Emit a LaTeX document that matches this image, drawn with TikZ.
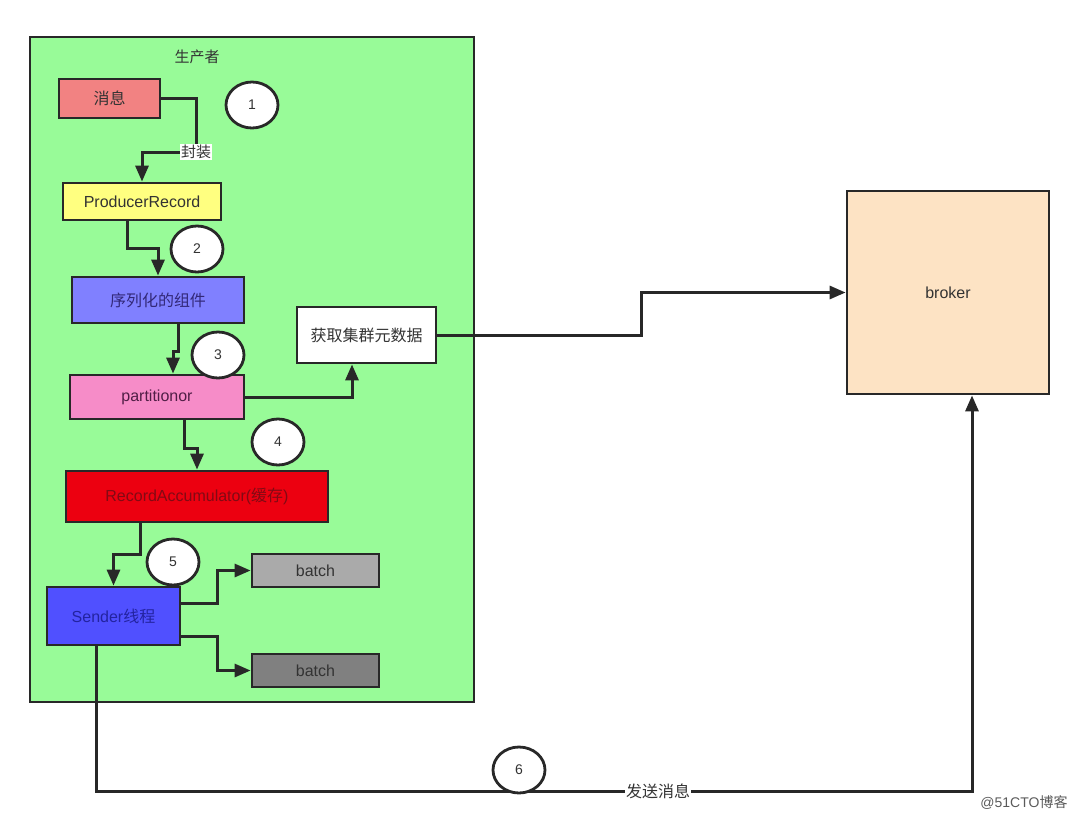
\documentclass[tikz,border=0pt]{standalone}
\usepackage{fontspec}
\setmainfont{Liberation Sans}
\newfontfamily\cjk{Noto Sans CJK SC}
\usetikzlibrary{arrows.meta,shapes.geometric}
\definecolor{edge}{RGB}{40,40,40}
\definecolor{txt}{RGB}{51,51,51}
\definecolor{bggreen}{RGB}{152,251,152}
\definecolor{msgred}{RGB}{242,130,130}
\definecolor{recyellow}{RGB}{255,255,128}
\definecolor{serblue}{RGB}{128,128,255}
\definecolor{partpink}{RGB}{246,140,200}
\definecolor{accred}{RGB}{236,0,16}
\definecolor{sndblue}{RGB}{80,80,255}
\definecolor{batchlight}{RGB}{170,170,170}
\definecolor{batchdark}{RGB}{128,128,128}
\definecolor{brokerorange}{RGB}{253,227,196}

\begin{document}
\begin{tikzpicture}[x=1pt,y=-1pt,
		box/.style={draw=edge,line width=2.8pt,rectangle,inner sep=0pt,text=txt,
			font=\fontsize{16}{19}\selectfont},
		num/.style={draw=edge,line width=2.8pt,ellipse,fill=white,inner sep=0pt,
			minimum width=52pt,minimum height=46pt,text=txt,font=\fontsize{14}{17}\selectfont},
		link/.style={draw=edge,line width=3pt,-{Triangle[length=16pt,width=13pt]}},
		lbl/.style={fill=white,inner sep=1pt,text=txt,font=\fontsize{15}{18}\cjk}]
		\useasboundingbox (0,0) rectangle (1080,822);
		% producer side
		\node[box,fill=bggreen,minimum width=444pt,minimum height=665pt] (producer) at (252,369.5) {};
		\node[text=txt,font=\fontsize{15}{18}\cjk] (title) at (197,57) {生产者};
		\node[box,fill=msgred,minimum width=101pt,minimum height=39pt] (msg) at (109.5,98.5) {\cjk 消息};
		\node[box,fill=recyellow,minimum width=158pt,minimum height=37pt] (rec) at (142,201.5) {ProducerRecord};
		\node[box,fill=serblue,minimum width=172pt,minimum height=46pt,text={rgb,255:red,50;green,40;blue,120}] (ser) at (158,300) {\cjk 序列化的组件};
		\node[box,fill=partpink,minimum width=174pt,minimum height=44pt,text={rgb,255:red,80;green,30;blue,70}] (part) at (157,397) {partitionor};
		\node[box,fill=white,minimum width=139pt,minimum height=56pt] (meta) at (366.5,335) {\cjk 获取集群元数据};
		\node[box,fill=accred,minimum width=262pt,minimum height=51pt,text={rgb,255:red,130;green,10;blue,20}] (acc) at (197,496.5) {RecordAccumulator({\cjk 缓存})};
		\node[box,fill=sndblue,minimum width=133pt,minimum height=58pt,text={rgb,255:red,35;green,35;blue,160}] (snd) at (113.5,616) {Sender{\cjk 线程}};
		\node[box,fill=batchlight,minimum width=127pt,minimum height=33pt] (b1) at (315.5,570.5) {batch};
		\node[box,fill=batchdark,minimum width=127pt,minimum height=33pt] (b2) at (315.5,670.5) {batch};
		\node[box,fill=brokerorange,minimum width=202pt,minimum height=203pt] (broker) at (948,292.5) {broker};
		% steps
		\node[num] (c1) at (252,105) {1};
		\node[num] (c2) at (197,249) {2};
		\node[num] (c3) at (218,355) {3};
		\node[num] (c4) at (278,442) {4};
		\node[num] (c5) at (173,562) {5};
		% connectors
		\draw[link] (msg.east) -- (196,98.5) -- (196,152) -| (rec.north);
		\node[lbl] (wrap) at (196,152) {封装};
		\draw[link] ([xshift=-15pt]rec.south) -- ++(0,27.5) -| (ser.north);
		\draw[link] ([xshift=20pt]ser.south) -- ++(0,27) -| ([xshift=16pt]part.north);
		\draw[link] (part.east) -| ([xshift=-14.5pt]meta.south);
		\draw[link] (meta.east) -- (641,335) |- (broker.west);
		\draw[link] ([xshift=27pt]part.south) -- ++(0,28) -| (acc.north);
		\draw[link] ([xshift=-57pt]acc.south) -- ++(0,31) -| (snd.north);
		\draw[link] ([yshift=13pt]snd.east) -- ++(36,0) |- (b1.west);
		\draw[link] ([yshift=-20pt]snd.east) -- ++(36,0) |- (b2.west);
		\draw[link] ([xshift=-17.5pt]snd.south) -- ++(0,145) -| ([xshift=24pt]broker.south);
		\node[lbl,font=\fontsize{16}{19}\cjk] (send) at (658,791) {发送消息};
		\node[num] (c6) at (519,770) {6};
		\node[text={rgb,255:red,90;green,90;blue,90},font=\fontsize{14}{17}\selectfont] (mark) at (1024,803) {@51CTO{\cjk 博客}};
	% kafka producer flow
	\end{tikzpicture}
\end{document}
